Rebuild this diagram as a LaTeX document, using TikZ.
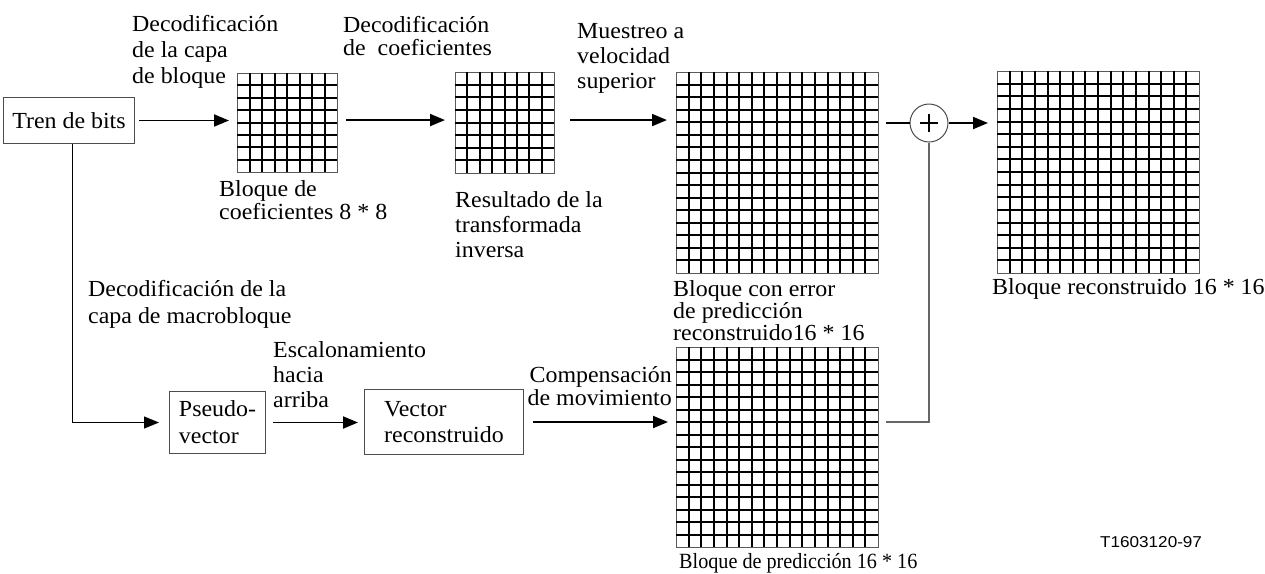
\documentclass[tikz,border=0pt]{standalone}
\usepackage{fontspec}
\setmainfont{Liberation Serif}[FakeStretch=1.04]
\newfontfamily\narrowserif{Liberation Serif}[FakeStretch=0.93]
\newfontfamily\codefont{Liberation Sans}[FakeStretch=1.09]
\usetikzlibrary{arrows.meta}
\tikzset{
  lbl/.style={anchor=base west, inner sep=0pt, align=left},
  box/.style={draw=black!70, line width=1pt, inner sep=0pt, align=left},
  arr/.style={line width=1.9pt, -{Triangle[length=15pt,width=12pt]}},
  thinarr/.style={line width=1.2pt, -{Triangle[length=15pt,width=12pt]}},
  conn/.style={draw=black!60, line width=1.1pt},
  gridframe/.style={draw=black!65, line width=1.1pt, inner sep=0pt},
  gridline/.style={line width=2pt, black},
}
\newcommand\mkgrid[6]{%
  \node[gridframe, anchor=north west, minimum width=#4pt, minimum height=#5pt] (#1) at (#2,#3) {};
  \foreach \k in {1,...,#6}{%
    \draw[gridline] ({#2+\k*#4/(#6+1)},#3) -- ({#2+\k*#4/(#6+1)},{#3+#5});
    \draw[gridline] (#2,{#3+\k*#5/(#6+1)}) -- ({#2+#4},{#3+\k*#5/(#6+1)});
  }}
\begin{document}
\begin{tikzpicture}[x=1pt, y=-1pt, font=\fontsize{23}{24}\selectfont]
  \fill[white] (0,0) rectangle (1265,573);
  \useasboundingbox (0,0) rectangle (1265,573);

  % grids
  \mkgrid{g1}{237}{73}{100}{99}{7}
  \mkgrid{g2}{455}{72}{99}{101}{7}
  \mkgrid{g3}{676}{72}{202}{201}{15}
  \mkgrid{g4}{997}{71}{202}{202}{15}
  \mkgrid{g5}{676}{347}{202}{200}{15}

  % boxes
  \node[box, anchor=north west, minimum width=131pt, minimum height=46pt, align=center] (tren) at (3,97) {Tren de bits};
  \node[box, anchor=north west, minimum width=96pt, minimum height=62pt,
        font=\fontsize{23}{27}\selectfont] (pseudo) at (169,391) {Pseudo-\\vector};
  \node[box, anchor=north west, minimum width=159pt, minimum height=65pt,
        font=\fontsize{23}{26}\selectfont] (vector) at (364,389) {Vector\\reconstruido};

  % summing junction
  \node[circle, draw=black!70, line width=1pt, minimum size=38pt, inner sep=0pt] (sum) at (929,123) {};
  \draw[line width=1.1pt] ([xshift=-9pt]sum.center) -- ([xshift=9pt]sum.center);
  \draw[line width=1.1pt] ([yshift=-9pt]sum.center) -- ([yshift=9pt]sum.center);

  % labels (anchored at the baseline of their last line)
  \node[lbl, font=\fontsize{23}{26}\selectfont] (l1) at (132,83) {Decodificación\\de la capa\\de bloque};
  \node[lbl, font=\fontsize{23}{23}\selectfont] (l2) at (343,55) {Decodificación\\de~~coeficientes};
  \node[lbl, font=\fontsize{23}{25}\selectfont] (l3) at (577,88) {Muestreo a\\velocidad\\superior};
  \node[lbl, font=\fontsize{23}{23}\selectfont] (l4) at (219,219) {Bloque de\\coeficientes 8 * 8};
  \node[lbl, font=\fontsize{23}{25}\selectfont] (l5) at (455,257) {Resultado de la\\transformada\\inversa};
  \node[lbl, font=\fontsize{23}{22}\selectfont] (l6) at (673,340) {Bloque con error\\de predicción\\reconstruido16 * 16};
  \node[lbl] (l7) at (992,294) {Bloque reconstruido 16 * 16};
  \node[lbl, font=\fontsize{23}{27}\selectfont] (l8) at (88,323) {Decodificación de la\\capa de macrobloque};
  \node[lbl, font=\fontsize{23}{25}\selectfont] (l9) at (273,407) {Escalonamiento\\hacia\\arriba};
  \node[anchor=base east, inner sep=0pt, align=right, font=\fontsize{23}{23}\selectfont] (l10) at (672,405) {Compensación\\de movimiento};
  \node[lbl, font=\narrowserif\fontsize{21.7}{22}\selectfont] (l11) at (679,568) {Bloque de predicción 16 * 16};
  \node[lbl, font=\codefont\fontsize{15.7}{17}\selectfont] (code) at (1100,547) {T1603120-97};

  % connectors
  \draw[arr, shorten <=4pt, shorten >=8pt] (tren.east) -- (tren.east -| g1.west);
  \coordinate (a1) at ([yshift=3pt]g1.east);
  \draw[arr, shorten <=8pt, shorten >=10pt] (a1) -- (a1 -| g2.west);
  \coordinate (a2) at ([yshift=3pt]g2.east);
  \draw[arr, shorten <=15pt, shorten >=9pt] (a2) -- (a2 -| g3.west);
  \draw[line width=1.4pt, shorten <=7pt] (sum.west -| g3.east) -- (sum.west);
  \draw[arr, shorten >=9pt] (sum.east) -- (sum.east -| g4.west);
  \coordinate (t1) at ([xshift=3.5pt]tren.south);
  \draw[thinarr, shorten >=10pt] (t1) |- (pseudo.west);
  \draw[arr, shorten <=7pt, shorten >=6pt] (pseudo.east) -- (pseudo.east -| vector.west);
  \draw[arr, shorten <=9pt, shorten >=8pt] (vector.east) -- (vector.east -| g5.west);
  \coordinate (r5) at ([xshift=7pt]g5.east);
  \draw[conn] (r5 |- vector.east) -| (sum.south);
\end{tikzpicture}
\end{document}
